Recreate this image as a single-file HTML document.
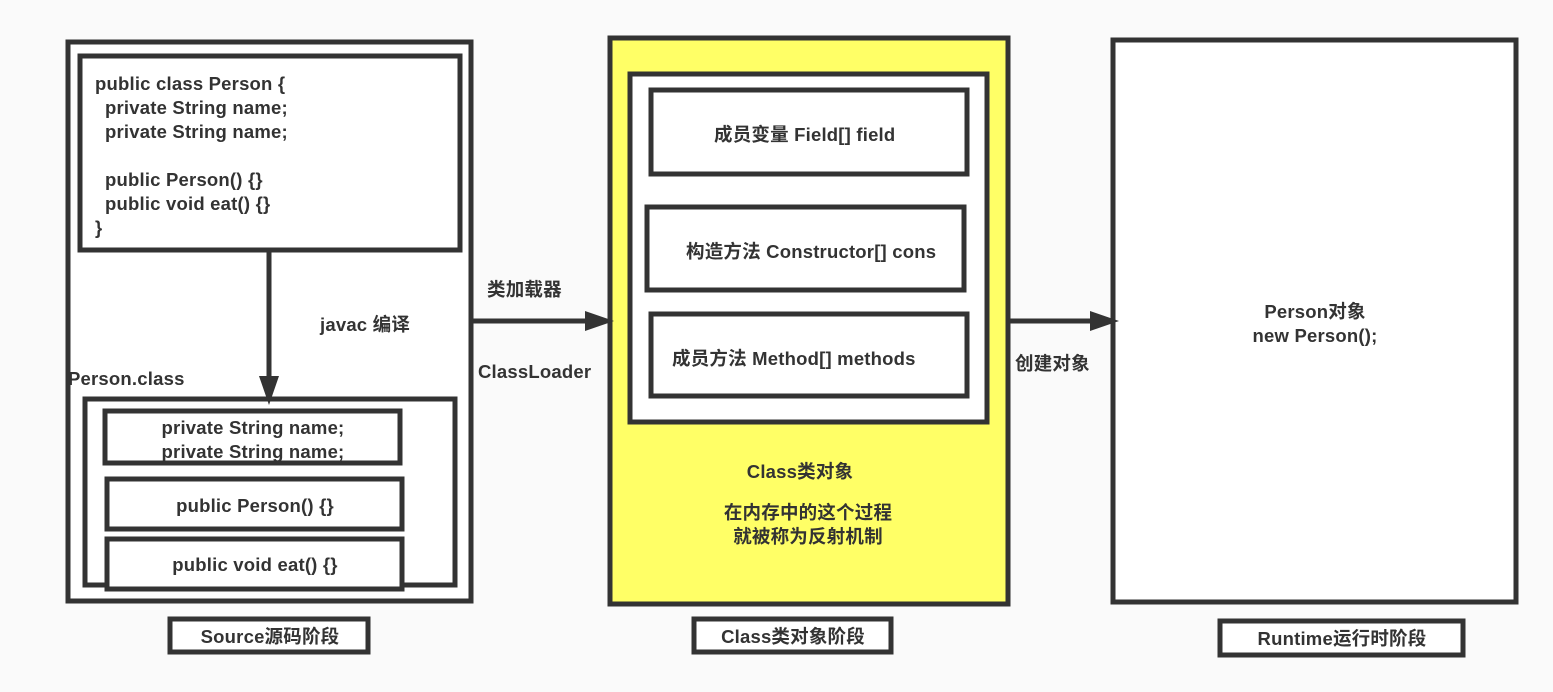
<!DOCTYPE html>
<html><head><meta charset="utf-8"><style>
html,body{margin:0;padding:0;background:#fafafa;}
svg{display:block}
text{font-family:"Liberation Sans","Noto Sans CJK SC",sans-serif;font-weight:bold;font-size:18.5px;fill:#333;letter-spacing:0.2px;}
</style></head><body>
<svg width="1553" height="692" viewBox="0 0 1553 692" xmlns="http://www.w3.org/2000/svg">
<g stroke="#333" stroke-width="5" fill="#fff">
<rect x="68" y="42" width="403" height="559"/>
<rect x="80" y="56" width="380" height="194"/>
<rect x="85" y="399" width="370" height="186"/>
<rect x="105" y="411" width="295" height="52"/>
<rect x="107" y="479" width="295" height="50"/>
<rect x="107" y="539" width="295" height="50"/>
<rect x="610" y="38" width="398" height="566" fill="#ffff66"/>
<rect x="630" y="74" width="357" height="348"/>
<rect x="651" y="90" width="316" height="84"/>
<rect x="647" y="207" width="317" height="83"/>
<rect x="651" y="314" width="316" height="82"/>
<rect x="1113" y="40" width="403" height="562"/>
<rect x="170" y="619" width="198" height="33"/>
<rect x="694" y="619" width="197" height="33"/>
<rect x="1220" y="621" width="243" height="34"/>
</g>
<g stroke="#333" stroke-width="5" fill="none">
<line x1="269" y1="252" x2="269" y2="380"/>
<line x1="473" y1="321" x2="592" y2="321"/>
<line x1="1010" y1="321" x2="1098" y2="321"/>
</g>
<g fill="#333">
<polygon points="259,376 279,376 269,405"/>
<polygon points="585,311 585,331 614,321"/>
<polygon points="1090,311 1090,331 1119,321"/>
</g>
<text x="95" y="90">public class Person {</text>
<text x="105" y="114">private String name;</text>
<text x="105" y="138">private String name;</text>
<text x="105" y="186">public Person() {}</text>
<text x="105" y="210">public void eat() {}</text>
<text x="95" y="234">}</text>
<text x="320" y="331">javac 编译</text>
<text x="68" y="385">Person.class</text>
<g text-anchor="middle">
<text x="253" y="434">private String name;</text>
<text x="253" y="458">private String name;</text>
<text x="255" y="512">public Person() {}</text>
<text x="255" y="571">public void eat() {}</text>
<text x="270" y="643">Source源码阶段</text>
<text x="793" y="643">Class类对象阶段</text>
<text x="1342" y="645">Runtime运行时阶段</text>
<text x="800" y="478">Class类对象</text>
<text x="808" y="519">在内存中的这个过程</text>
<text x="808" y="543">就被称为反射机制</text>
<text x="1315" y="318">Person对象</text>
<text x="1315" y="342">new Person();</text>
</g>
<text x="487" y="296">类加载器</text>
<text x="478" y="378">ClassLoader</text>
<text x="714" y="141">成员变量  Field[] field</text>
<text x="686" y="258">构造方法  Constructor[] cons</text>
<text x="672" y="365">成员方法  Method[] methods</text>
<text x="1015" y="370">创建对象</text>
</svg>
</body></html>
